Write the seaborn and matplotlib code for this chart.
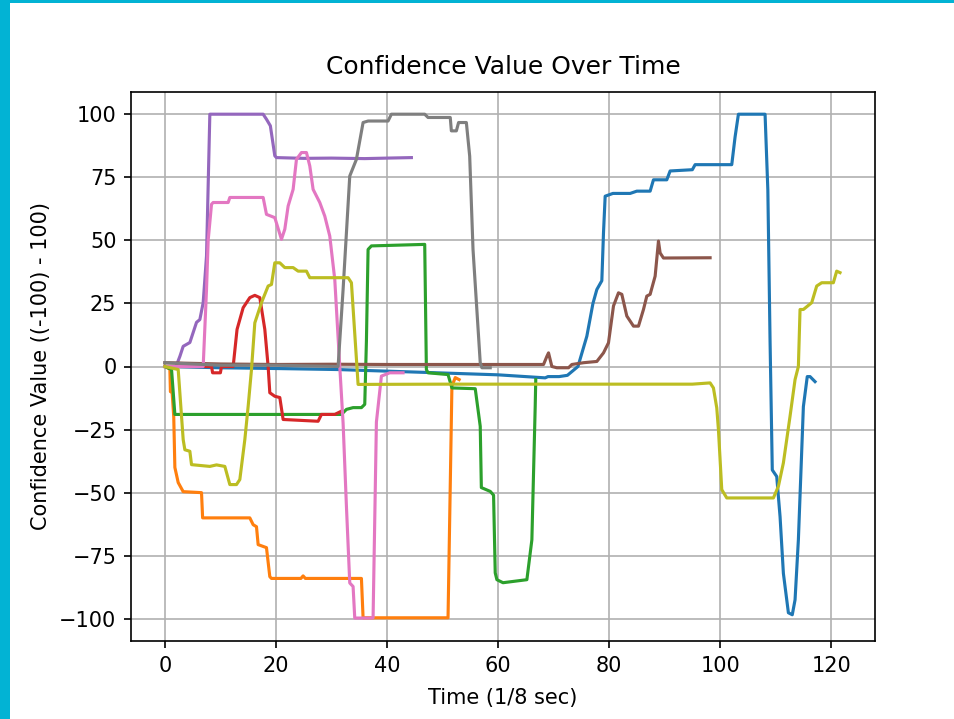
import matplotlib
matplotlib.use("Agg")
import matplotlib.pyplot as plt
import matplotlib.patches as mpatches
import seaborn as sns
import pandas as pd

# ---- data ----
s0_x = [0, 10, 20, 31, 45, 60, 68.5, 69, 71, 72.5, 74.4, 76, 77.1, 77.8, 78.7, 79, 79.3, 80.7, 83.8, 85, 87.4, 88,
        90.4, 91, 95, 95.5, 102.1, 102.7, 103.3, 108.1, 108.6, 109.0, 109.4, 110.2, 110.8, 111.4, 112.3, 113,
        113.5, 114.1, 115, 115.7, 116.2, 117.1]
s0_y = [0, -0.5, -0.8, -1.2, -2.2, -3.3, -4.5, -4.0, -4.0, -3.5, 0, 12, 25, 30.5, 34, 53, 67.5, 68.6, 68.6, 69.5,
        69.5, 74, 74, 77.5, 78, 80, 80, 91, 100, 100, 70, 10, -41, -43.6, -59.5, -82, -97.6, -98.4, -92.5, -68.7,
        -15.9, -4, -4, -6]

s1_x = [0, 0.9, 1.0, 1.3, 1.6, 1.8, 2.4, 3.3, 6.6, 6.8, 15.3, 15.9, 16.5, 16.8, 18.3, 18.9, 19.2, 24.5, 24.9,
        25.3, 35.4, 35.7, 51, 51.7, 52.3, 53]
s1_y = [0, -1, -10, -10, -20, -40, -46, -49.6, -50, -60, -60, -62.7, -63.5, -70.6, -71.8, -83.3, -84, -84, -83,
        -84, -84, -99.6, -99.6, -7.8, -4.4, -5.2]

s2_x = [0, 1.2, 1.8, 31.8, 32.7, 33.9, 35.4, 36.0, 36.3, 36.6, 37.2, 46.8, 47.1, 47.4, 51, 51.7, 55.9, 56.8, 57,
        58.6, 59.2, 59.5, 59.8, 60.9, 65.2, 66.1, 66.7, 66.8]
s2_y = [0, -1.2, -19, -19, -17, -16.3, -16.3, -15, 10, 46.4, 47.8, 48.4, -1.2, -2.5, -3.2, -8.5, -8.8, -23.7, -48,
        -49.5, -51, -81.8, -84.5, -85.7, -84.5, -68.7, -15.8, -5.2]

s3_x = [0, 8.4, 8.6, 10.0, 10.2, 12.3, 13, 14.1, 15.3, 16.2, 17.1, 18, 18.6, 18.9, 19.8, 20.7, 21.3, 27.6, 28.2,
        30.6, 31.8]
s3_y = [0, 0, -2.5, -2.5, 0, 0, 14.7, 23.3, 27.3, 28.2, 27.3, 14.7, 0, -10.4, -11.8, -12.3, -21, -21.7, -19, -19,
        -17.7]

s4_x = [0, 2.0, 2.7, 3.3, 4.5, 5.1, 5.7, 6.3, 6.9, 7.5, 8.1, 17.7, 18.3, 19, 19.8, 20.1, 25, 30, 36, 40, 44.4]
s4_y = [0, 0, 4, 8, 9.5, 13.5, 17.5, 18.6, 25.3, 43.8, 100, 100, 98, 95.4, 83.5, 82.8, 82.5, 82.6, 82.4, 82.6, 82.8]

s5_x = [0, 10, 20, 30, 40, 50, 60, 68.2, 68.8, 69.1, 69.7, 70.6, 72.7, 73.3, 75.4, 77.8, 79, 79.9, 80.8, 81.7,
        82.3, 83.2, 84.4, 85.3, 86.2, 86.8, 87.4, 88.3, 88.9, 89.2, 89.8, 98.2]
s5_y = [1.5, 1, 0.8, 0.9, 0.8, 0.8, 0.8, 0.8, 4, 5.4, 0, -0.5, -0.5, 0.8, 1.5, 2, 5.4, 9.4, 24, 29.2, 28.6, 20, 16,
        16, 22.6, 27.9, 28.6, 35.8, 49.7, 45, 43, 43.1]

s6_x = [0, 6.9, 7.5, 7.8, 8.4, 8.7, 11.4, 11.7, 17.7, 18.3, 19.8, 21, 21.6, 22.2, 23.1, 23.7, 24.6, 25.5, 26.1,
        26.7, 27.9, 28.8, 29.7, 30.6, 31.5, 32.1, 32.7, 33.3, 33.9, 34.2, 37.2, 37.5, 38.1, 39, 40.5, 42.9]
s6_y = [0, 0, 30.5, 50, 64.3, 65, 65, 67, 67, 60.3, 59, 50.4, 54.4, 63.6, 70.2, 82.1, 84.8, 84.8, 79.5, 70.2, 65,
        59.6, 51.7, 34.5, 0, -22.4, -55.4, -85.8, -87.2, -99.7, -99.7, -99.6, -22, -3.8, -2.5, -2.5]

s7_x = [0, 10, 20, 31.2, 32.1, 33.3, 34.5, 35.7, 36.6, 40.2, 40.8, 46.8, 47.4, 51.4, 51.6, 52.5, 52.9, 54.3, 54.9,
        55.5, 56.8, 57.1, 58.6]
s7_y = [1.5, 0.5, 0.5, 0, 30.5, 75.5, 82.1, 96.7, 97.3, 97.3, 100, 100, 98.7, 98.7, 93.4, 93.4, 96.7, 96.7, 83.4,
        46.4, 1.5, -0.5, -0.5]

s8_x = [0, 2.4, 3.3, 3.6, 4.5, 4.8, 8.1, 9.3, 10.8, 11.7, 12.9, 13.5, 14.4, 15, 15.6, 16.2, 17.4, 18.6, 19.2, 19.8,
        20.7, 21.6, 23.1, 24, 25.5, 26.1, 33, 33.6, 34.8, 50, 65, 80, 95, 98.2, 98.8, 99.4, 99.7, 100.3, 101.2,
        109.6, 110.5, 111.4, 112.6, 113.5, 114.1, 114.4, 115, 116.5, 117.4, 118.3, 120.4, 121, 121.6]
s8_y = [0, -1.2, -29, -33, -33.6, -38.9, -39.6, -39, -39.6, -46.8, -46.8, -44.8, -29, -15.8, -1.2, 17.3, 25.3, 31.9,
        32.5, 41.1, 41.1, 39.2, 39.2, 37.8, 37.8, 35.2, 35.2, 33.2, -7.1, -7, -7, -7, -7, -6.5, -8.5, -16.4, -25,
        -48.8, -52.1, -52.1, -47.5, -38.2, -19.7, -5.2, 0, 22.6, 22.6, 25.3, 31.9, 33.2, 33.2, 37.8, 37.2]

series_x = [s0_x, s1_x, s2_x, s3_x, s4_x, s5_x, s6_x, s7_x, s8_x]
series_y = [s0_y, s1_y, s2_y, s3_y, s4_y, s5_y, s6_y, s7_y, s8_y]
series_names = [f"s{i}" for i in range(9)]

title = "Confidence Value Over Time"
xlabel = "Time (1/8 sec)"
ylabel = "Confidence Value ((-100) - 100)"

# ---- build long table ----
rows = []
for name, xs, ys in zip(series_names, series_x, series_y):
    for i, (x, y) in enumerate(zip(xs, ys)):
        rows.append({"series": name, "order": i, "time": x, "value": y})
df = pd.DataFrame(rows)

plt.rcParams.update(plt.rcParamsDefault)
plt.rcParams["font.family"] = ["DejaVu Sans"]

fig = plt.figure(figsize=(955 / 150, 719 / 150), dpi=150)
ax = fig.add_axes([131 / 955, 1 - 641 / 719, (875 - 131) / 955, (641 - 92) / 719])

palette = sns.color_palette("tab10", 10)[:9]
sns.lineplot(data=df, x="time", y="value", hue="series", hue_order=series_names,
             palette=palette, units="series", estimator=None, sort=False,
             legend=False, linewidth=1.5, ax=ax)

ax.set_xlim(-6.1, 127.9)
ax.set_ylim(-108.8, 108.8)
ax.set_xticks([0, 20, 40, 60, 80, 100, 120])
ax.set_yticks([-100, -75, -50, -25, 0, 25, 50, 75, 100])
ax.grid(True)
ax.set_axisbelow(True)
ax.set_title(title, pad=8.5)
ax.set_xlabel(xlabel, labelpad=6)
ax.set_ylabel(ylabel)

# cyan frame of the screenshot (left and top)
border = "#02b3d4"
fig.patches.append(mpatches.Rectangle((0, 0), 10 / 955, 1, transform=fig.transFigure,
                                      facecolor=border, edgecolor="none", zorder=10))
fig.patches.append(mpatches.Rectangle((0, 1 - 3 / 719), 1, 3 / 719, transform=fig.transFigure,
                                      facecolor=border, edgecolor="none", zorder=10))

fig.savefig("out.png", dpi=150)
